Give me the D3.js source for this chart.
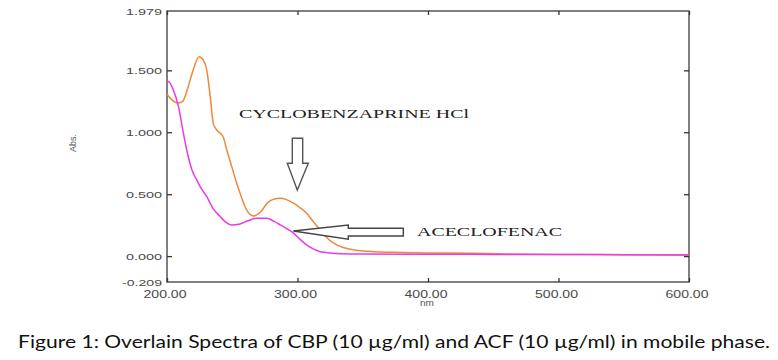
<!DOCTYPE html>
<html><head><meta charset="utf-8">
<script src="https://cdn.jsdelivr.net/npm/d3@7"></script>
<style>body{margin:0;background:#fff}svg{display:block}</style>
</head><body><svg id="c" width="778" height="360"></svg>
<script>
// Data (wavelength nm, absorbance)
const cbpWave = [200,204,208,212,216,220,224.6,228,230.5,233,235.5,238,243,245.8,250,253.4,256,261,266.3,272,277,281.6,286.8,291,297,302,307,312,317.5,322,327.7,335,343.6,350,358.9,380,400,430,460,500,550,600];
const cbpAbs  = [1.307,1.26,1.236,1.25,1.36,1.5,1.61,1.58,1.50,1.30,1.07,1.02,0.964,0.857,0.71,0.588,0.508,0.373,0.324,0.36,0.43,0.459,0.467,0.458,0.427,0.39,0.346,0.28,0.211,0.155,0.104,0.07,0.05,0.042,0.036,0.03,0.026,0.023,0.018,0.014,0.012,0.01];
const acfWave = [200,201,204.9,208.8,212.6,215.1,219,222.8,226,230.5,235,240.7,245,249.6,256,262,268.8,276.5,282,286.8,292,297,302,307,312,317.5,325,333.3,350,400,450,500,550,600];
const acfAbs  = [1.41,1.41,1.34,1.207,0.99,0.857,0.70,0.615,0.55,0.48,0.39,0.319,0.275,0.252,0.26,0.285,0.306,0.306,0.28,0.252,0.22,0.185,0.135,0.09,0.058,0.036,0.026,0.02,0.017,0.015,0.014,0.013,0.012,0.01];
const xTicks = [200,300,400,500,600];
const xTickLabels = ["200.00","300.00","400.00","500.00","600.00"];
const yTicks = [-0.209,0,0.5,1.0,1.5,1.979];
const yTickLabels = ["-0.209","0.000","0.500","1.000","1.500","1.979"];

const svg = d3.select("#c");
const L=167,R=689,T=11,B=282;
const x = d3.scaleLinear().domain([200,600]).range([L,R]);
const y = d3.scaleLinear().domain([-0.209,1.979]).range([B,T]);

// frame
svg.append("rect").attr("x",L).attr("y",T).attr("width",R-L).attr("height",B-T)
  .attr("fill","none").attr("stroke","#555").attr("stroke-width",1.5);

// ticks (inward, all four sides)
const gx = svg.append("g").attr("transform",`translate(0,${B})`)
  .call(d3.axisBottom(x).tickValues(xTicks).tickSize(-4).tickFormat(""));
const gxt = svg.append("g").attr("transform",`translate(0,${T})`)
  .call(d3.axisTop(x).tickValues(xTicks).tickSize(-4).tickFormat(""));
const gy = svg.append("g").attr("transform",`translate(${L},0)`)
  .call(d3.axisLeft(y).tickValues(yTicks.slice(1,-1)).tickSize(-5).tickFormat(""));
const gyr = svg.append("g").attr("transform",`translate(${R},0)`)
  .call(d3.axisRight(y).tickValues(yTicks.slice(1,-1)).tickSize(-5).tickFormat(""));
[gx,gxt,gy,gyr].forEach(g=>{g.select(".domain").remove();g.selectAll("line").attr("stroke","#333").attr("stroke-width",1.3);});

// tick labels
const lblFont = "Liberation Sans, Arial, sans-serif";
yTicks.forEach((v,i)=>{
  svg.append("text").attr("x",162).attr("y",y(v)+3.5).attr("text-anchor","end")
    .attr("font-family",lblFont).attr("font-size",9).attr("fill","#4a4a4a")
    .attr("textLength", yTickLabels[i].length>5?40:36).attr("lengthAdjust","spacingAndGlyphs")
    .text(yTickLabels[i]);
});
xTicks.forEach((v,i)=>{
  svg.append("text").attr("x",x(v)-2).attr("y",297.5).attr("text-anchor","middle")
    .attr("font-family",lblFont).attr("font-size",10).attr("fill","#4a4a4a")
    .attr("textLength",43).attr("lengthAdjust","spacingAndGlyphs")
    .text(xTickLabels[i]);
});
svg.append("text").attr("x",427).attr("y",306).attr("text-anchor","middle")
  .attr("font-family",lblFont).attr("font-size",9).attr("fill","#555")
  .attr("textLength",14).attr("lengthAdjust","spacingAndGlyphs").text("nm");
svg.append("text").attr("transform","translate(76,143) rotate(-90)").attr("text-anchor","middle")
  .attr("font-family",lblFont).attr("font-size",9).attr("fill","#555")
  .attr("textLength",18).attr("lengthAdjust","spacingAndGlyphs").text("Abs.");

// curves
const line = d3.line().curve(d3.curveMonotoneX);
svg.append("path").datum(cbpWave.map((w,i)=>[x(w),y(cbpAbs[i])]))
  .attr("d",line).attr("fill","none").attr("stroke","#f0883a").attr("stroke-width",1.5);
svg.append("path").datum(acfWave.map((w,i)=>[x(w),y(acfAbs[i])]))
  .attr("d",line).attr("fill","none").attr("stroke","#ea3aea").attr("stroke-width",1.5);

// annotations
const serif = "Liberation Serif, Times New Roman, serif";
svg.append("text").attr("x",239).attr("y",118).attr("font-family",serif).attr("font-size",12)
  .attr("fill","#222").attr("textLength",230).attr("lengthAdjust","spacingAndGlyphs").text("CYCLOBENZAPRINE HCl");
svg.append("text").attr("x",417).attr("y",236).attr("font-family",serif).attr("font-size",13)
  .attr("fill","#222").attr("textLength",145).attr("lengthAdjust","spacingAndGlyphs").text("ACECLOFENAC");

// hollow arrows
svg.append("path").attr("d","M292.3,138.3 L302.7,138.3 L302.7,163.3 L308.3,163.3 L297.3,190 L287.3,163.3 L292.3,163.3 Z")
  .attr("fill","#fff").attr("stroke","#555").attr("stroke-width",1.4);
svg.append("path").attr("d","M293.3,231 L348.3,225 L348.3,228.3 L403.3,228.3 L403.3,236 L348.3,236 L348.3,239.3 Z")
  .attr("fill","#fff").attr("stroke","#444").attr("stroke-width",1.4);

// caption
svg.append("text").attr("x",18).attr("y",348).attr("font-family","Lato, Open Sans, Liberation Sans, sans-serif")
  .attr("font-size",18).attr("fill","#111").attr("textLength",752).attr("lengthAdjust","spacingAndGlyphs")
  .text("Figure 1: Overlain Spectra of CBP (10 µg/ml) and ACF (10 µg/ml) in mobile phase.");
</script></body></html>
